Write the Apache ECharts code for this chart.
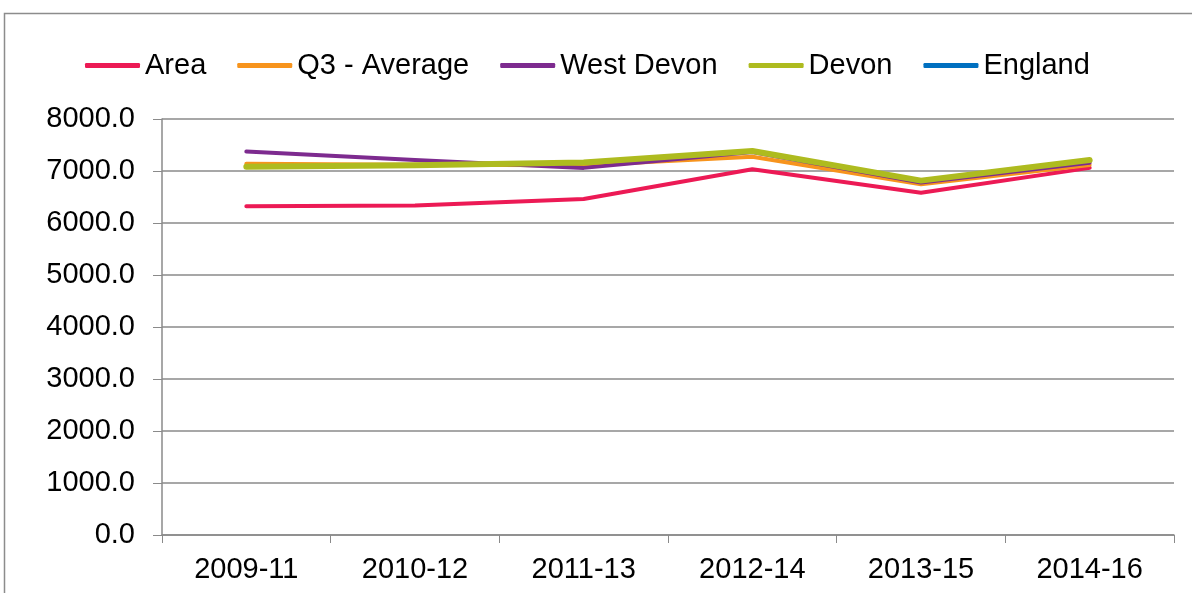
<!DOCTYPE html>
<html>
<head>
<meta charset="utf-8">
<script src="https://cdn.jsdelivr.net/npm/echarts@6/dist/echarts.min.js"></script>
<style>
  html, body { margin: 0; padding: 0; background: #fff; }
  #chart { width: 1192px; height: 593px; }
</style>
</head>
<body>
<div id="chart"></div>
<script>
// Periods on the category axis
const periods = ['2009-11', '2010-12', '2011-13', '2012-14', '2013-15', '2014-16'];

// Rate per period for each geography
const areaValues = [6320, 6335, 6460, 7035, 6580, 7060];
const q3AverageValues = [7140, 7120, 7110, 7275, 6745, 7115];
const westDevonValues = [7375, 7210, 7060, 7365, 6780, 7160];
const devonValues = [7080, 7110, 7165, 7385, 6815, 7210];
const englandValues = [null, null, null, null, null, null];

const seriesNames = ['Area', 'Q3 - Average', 'West Devon', 'Devon', 'England'];
const seriesColors = ['#EC1A55', '#F7941D', '#7D2B8F', '#AEBB1F', '#0070C0'];
const seriesWidths = [4, 4, 4, 6, 4];
const seriesData = [areaValues, q3AverageValues, westDevonValues, devonValues, englandValues];

const fontFamily = '"Liberation Sans", Arial, sans-serif';
const fontSize = 29;
const gridColor = '#8a8a8a';

const chart = echarts.init(document.getElementById('chart'), null, { renderer: 'canvas' });

chart.setOption({
  animation: false,
  backgroundColor: '#ffffff',
  graphic: [
    {
      type: 'polyline',
      shape: { points: [[4.5, 600], [4.5, 13.5], [1200, 13.5]] },
      style: { stroke: '#8c8c8c', lineWidth: 1.5, fill: null },
      silent: true
    }
  ],
  legend: {
    top: 51,
    left: 85,
    padding: 0,
    itemWidth: 55,
    itemHeight: 5,
    itemGap: 31,
    icon: 'roundRect',
    textStyle: { fontFamily: fontFamily, fontSize: fontSize, color: '#000' },
    data: seriesNames
  },
  grid: { left: 162, right: 18, top: 119, bottom: 58, containLabel: false },
  xAxis: {
    type: 'category',
    data: periods,
    boundaryGap: true,
    axisLine: { lineStyle: { color: gridColor, width: 1.5 } },
    axisTick: { show: true, length: 8, alignWithLabel: false, lineStyle: { color: gridColor } },
    axisLabel: { fontFamily: fontFamily, fontSize: fontSize, color: '#000', margin: 20 }
  },
  yAxis: {
    type: 'value',
    min: 0,
    max: 8000,
    interval: 1000,
    axisLine: { show: true, lineStyle: { color: gridColor, width: 1.5 } },
    axisTick: { show: true, length: 9, lineStyle: { color: gridColor } },
    axisLabel: {
      fontFamily: fontFamily, fontSize: fontSize, color: '#000', margin: 27,
      formatter: v => v.toFixed(1)
    },
    splitLine: { show: true, lineStyle: { color: gridColor, width: 1.5 } }
  },
  series: seriesNames.map((name, i) => ({
    name: name,
    type: 'line',
    data: seriesData[i],
    symbol: 'none',
    color: seriesColors[i],
    lineStyle: { width: seriesWidths[i], color: seriesColors[i], cap: 'round', join: 'round' },
    z: 2 + i
  }))
});
</script>
</body>
</html>
